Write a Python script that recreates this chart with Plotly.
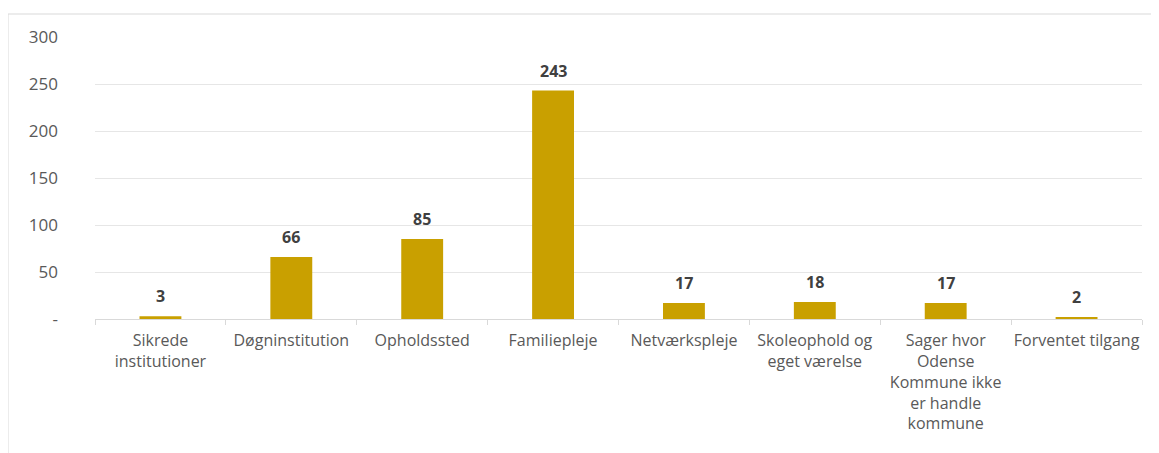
import plotly.graph_objects as go

categories = [
    "Sikrede<br>institutioner",
    "Døgninstitution",
    "Opholdssted",
    "Familiepleje",
    "Netværkspleje",
    "Skoleophold og<br>eget værelse",
    "Sager hvor<br>Odense<br>Kommune ikke<br>er handle<br>kommune",
    "Forventet tilgang",
]
values = [3, 66, 85, 243, 17, 18, 17, 2]
tick_vals = [0, 50, 100, 150, 200, 250, 300]
tick_text = ["-", "50", "100", "150", "200", "250", "300"]

# page body has an 8px margin; size the figure to fill the rest of the window
OFF = 8
W, H = 1159 - OFF, 453 - OFF
ml, mr, mt, mb = 95 - OFF, 17, 37 - OFF, 134
pw = W - ml - mr
ph = H - mt - mb

def px_x(p):
    return (p - OFF - ml) / pw

def px_y(p):
    return (H - mb - (p - OFF)) / ph

FONT = "Open Sans, Liberation Sans, sans-serif"

fig = go.Figure(go.Bar(
    x=categories, y=values,
    marker=dict(color="#C9A000", line=dict(width=0)),
    width=0.32,
    hoverinfo="x+y",
))

for c, v in zip(categories, values):
    fig.add_annotation(
        x=c, y=v, xref="x", yref="y", text=str(v),
        showarrow=False, yanchor="bottom", yshift=7,
        font=dict(family=FONT, size=16, color="#404040", weight="bold"),
    )

fig.update_layout(
    width=W, height=H,
    margin=dict(l=ml, r=mr, t=mt, b=mb),
    paper_bgcolor="white", plot_bgcolor="white",
    showlegend=False,
    font=dict(family=FONT, size=16, color="#595959"),
    xaxis=dict(
        showline=True, linecolor="#d9d9d9", linewidth=1,
        ticks="outside", tickson="boundaries", ticklen=5, tickcolor="#d9d9d9",
        showgrid=False, tickangle=0,
        ticklabelstandoff=7,
        tickfont=dict(family=FONT, size=16, color="#595959"),
    ),
    yaxis=dict(
        range=[0, 300], tickvals=tick_vals, ticktext=tick_text,
        showgrid=True, gridcolor="#e6e6e6", gridwidth=1,
        zeroline=False, showline=False, ticks="",
        ticklabelstandoff=36,
        tickfont=dict(family=FONT, size=17, color="#595959"),
    ),
    shapes=[
        dict(type="line", xref="paper", yref="paper",
             x0=px_x(8), x1=px_x(1165), y0=px_y(14), y1=px_y(14),
             line=dict(color="#d9d9d9", width=1)),
        dict(type="line", xref="paper", yref="paper",
             x0=px_x(8), x1=px_x(8), y0=px_y(14), y1=px_y(460),
             line=dict(color="#d9d9d9", width=1)),
    ],
)

fig.write_html("out.html")
